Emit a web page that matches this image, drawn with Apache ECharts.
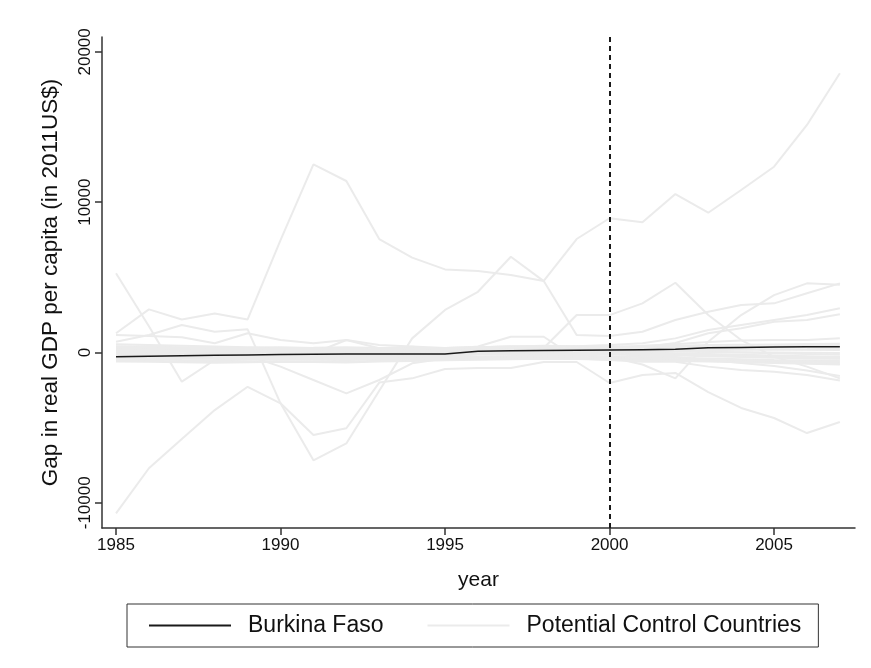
<!DOCTYPE html>
<html><head><meta charset="utf-8">
<script src="https://cdn.jsdelivr.net/npm/echarts@6/dist/echarts.min.js"></script>
<style>html,body{margin:0;padding:0;background:#fff}#c{width:871px;height:668px}</style>
</head><body><div id="c"></div>
<script>
const years = [1985,1986,1987,1988,1989,1990,1991,1992,1993,1994,1995,1996,1997,1998,1999,2000,2001,2002,2003,2004,2005,2006,2007];
const xTicks = [1985,1990,1995,2000,2005];
const yTicks = [-10000,0,10000,20000];
const treatYear = 2000;

const burkinaFaso = [-280,-250,-220,-190,-160,-140,-120,-100,-100,-100,-100,80,110,130,150,170,190,210,320,340,360,380,390];

const ctrlA = [1280,2870,2200,2600,2200,7480,12520,11410,7550,6310,5530,5420,5160,4760,7550,8930,8660,10540,9300,10810,12360,15140,18580];
const ctrlB = [5270,1750,-1940,-500,-300,-250,-200,-150,-100,50,100,150,200,150,100,50,0,-50,-100,-150,-200,-250,-300];
const ctrlC = [720,1160,1830,1380,1540,-3380,-7170,-6050,-2550,940,2830,4040,6370,4750,1160,1100,1380,2160,2710,3160,3270,3940,4600];
const ctrlD = [-10700,-7700,-5750,-3830,-2280,-3380,-5490,-5040,-2000,-1720,-1100,-1030,-1030,-630,-630,-2030,-1500,-1360,-2630,-3690,-4360,-5360,-4620];
const ctrlE = [400,380,350,300,320,350,300,250,200,220,250,280,300,300,2490,2490,3270,4640,2490,830,-280,-940,-1720];
const ctrlF = [200,150,100,50,80,100,150,200,150,100,200,400,1050,1050,-400,-300,-800,-1720,720,2490,3820,4600,4500];
const ctrlG = [300,250,200,150,200,250,200,150,200,250,300,350,400,380,420,500,610,940,1500,1830,2160,2490,2940];
const ctrlH = [-300,-250,-200,-150,-100,-50,0,50,0,50,100,150,200,220,240,250,350,630,1280,1610,2050,2160,2540];
const ctrlI = [100,150,200,250,200,150,100,150,200,250,200,250,300,280,260,300,450,550,700,800,830,830,940];
const ctrlJ = [-100,-150,-200,-250,-200,-940,-1830,-2720,-1830,-720,-400,-300,-250,-200,-150,-100,-120,-150,-200,-250,-300,-350,-400];
const ctrlK = [0,-50,-100,-100,-50,200,-50,830,280,390,200,100,50,0,50,100,150,100,50,0,-50,-100,-150];
const ctrlL = [-300,-350,-400,-420,-400,-380,-400,-420,-380,-350,-320,-300,-280,-300,-400,-500,-610,-610,-940,-1160,-1280,-1500,-1870];
const ctrlM = [-200,-250,-280,-300,-280,-250,-280,-300,-250,-200,-150,-100,-80,-60,-80,-100,-200,-300,-500,-700,-900,-1200,-1560];
const ctrlN = [1160,1100,1010,610,1280,830,610,830,500,400,300,350,400,450,420,400,380,360,380,400,420,450,480];
const ctrlO = [550,500,450,400,350,300,320,350,300,250,300,350,400,420,380,400,420,450,500,520,540,560,580];
const ctrlP = [400,380,300,250,200,220,250,200,150,180,200,250,250,300,280,300,280,260,240,220,200,180,160];
const ctrlQ = [250,200,150,100,120,100,80,100,120,100,60,100,150,150,120,100,80,60,40,20,0,-20,-40];
const ctrlR = [150,100,50,0,20,40,0,-20,0,30,20,0,-30,-50,-20,0,-50,-100,-150,-200,-250,-280,-300];
const ctrlS = [50,0,-50,-80,-60,-50,-80,-100,-60,-40,-50,-100,-120,-100,-80,-100,-150,-200,-250,-300,-350,-380,-400];
const ctrlT = [-100,-150,-200,-250,-220,-200,-250,-220,-200,-180,-200,-250,-230,-200,-220,-250,-300,-350,-400,-450,-500,-520,-540];
const ctrlU = [-200,-250,-300,-350,-320,-300,-330,-350,-300,-280,-300,-320,-300,-280,-300,-350,-400,-450,-500,-550,-600,-620,-640];
const ctrlV = [-400,-450,-500,-520,-480,-450,-480,-500,-450,-420,-400,-380,-350,-330,-350,-380,-420,-460,-500,-520,-560,-600,-650];
const ctrlW = [-500,-550,-600,-620,-600,-580,-600,-620,-550,-500,-480,-450,-420,-400,-420,-450,-480,-520,-560,-600,-650,-700,-750];
const ctrlX = [-600,-620,-650,-680,-650,-620,-640,-660,-600,-560,-520,-480,-450,-420,-440,-480,-520,-560,-600,-650,-700,-750,-800];
const ctrlY = [0,50,100,150,120,80,50,0,50,80,100,150,200,180,150,120,100,120,150,180,200,220,250];
const ctrlZ = [350,300,250,200,250,280,200,150,200,250,300,320,350,380,400,380,350,320,300,320,350,370,400];

const controls = [ctrlA,ctrlB,ctrlC,ctrlD,ctrlE,ctrlF,ctrlG,ctrlH,ctrlI,ctrlJ,ctrlK,ctrlL,ctrlM,ctrlN,
  ctrlO,ctrlP,ctrlQ,ctrlR,ctrlS,ctrlT,ctrlU,ctrlV,ctrlW,ctrlX,ctrlY,ctrlZ];

const FONT = '"Liberation Sans", Arial, sans-serif';
const pair = arr => arr.map((v,i) => [years[i], v]);

const series = controls.map(c => ({
  name: 'Potential Control Countries',
  type: 'line',
  data: pair(c),
  symbol: 'none',
  z: 2,
  silent: true,
  lineStyle: {color: '#ebebeb', width: 2},
  itemStyle: {color: '#ebebeb'}
}));
series.push({
  name: 'Burkina Faso',
  type: 'line',
  data: pair(burkinaFaso),
  symbol: 'none',
  z: 5,
  lineStyle: {color: '#1a1a1a', width: 1.5},
  itemStyle: {color: '#1a1a1a'},
  markLine: {
    silent: true,
    symbol: ['none','none'],
    label: {show: false},
    lineStyle: {color: '#1a1a1a', type: [5,4], width: 2},
    data: [{xAxis: treatYear}]
  }
});

const chart = echarts.init(document.getElementById('c'), null, {renderer: 'canvas'});
chart.setOption({
  animation: false,
  backgroundColor: '#fff',
  grid: {left: 102, right: 16, top: 37, bottom: 140, containLabel: false},
  xAxis: {
    type: 'value', min: 1984.574, max: 2007.46,
    splitLine: {show: false},
    axisLine: {show: true, onZero: false, lineStyle: {color: '#333', width: 1.5}},
    axisTick: {show: true, customValues: xTicks, length: 7, lineStyle: {color: '#333', width: 1.5}},
    axisLabel: {customValues: xTicks, formatter: v => String(v), color: '#111', fontSize: 17, fontFamily: FONT, margin: 9},
    name: 'year', nameLocation: 'middle', nameGap: 42,
    nameTextStyle: {color: '#111', fontSize: 21, fontFamily: FONT}
  },
  yAxis: {
    type: 'value', min: -11676, max: 20990,
    splitLine: {show: false},
    axisLine: {show: true, onZero: false, lineStyle: {color: '#333', width: 1.5}},
    axisTick: {show: true, customValues: yTicks, length: 7, lineStyle: {color: '#333', width: 1.5}},
    axisLabel: {customValues: yTicks, formatter: v => String(v), rotate: 90, color: '#111', fontSize: 17, fontFamily: FONT, margin: 8},
    name: 'Gap in real GDP per capita (in 2011US$)', nameLocation: 'middle', nameGap: 40, nameRotate: 90,
    nameTextStyle: {color: '#111', fontSize: 22.5, fontFamily: FONT}
  },
  legend: {
    left: 127, top: 604,
    borderColor: '#333', borderWidth: 1,
    padding: [10, 17, 10, 22],
    icon: 'rect',
    itemWidth: 82, itemHeight: 2, itemGap: 44,
    textStyle: {color: '#111', fontSize: 23, fontFamily: FONT, padding: [0, 0, 0, 12]},
    data: [{name: 'Burkina Faso'}, {name: 'Potential Control Countries'}],
    selectedMode: false
  },
  series: series
});
</script>
</body></html>
